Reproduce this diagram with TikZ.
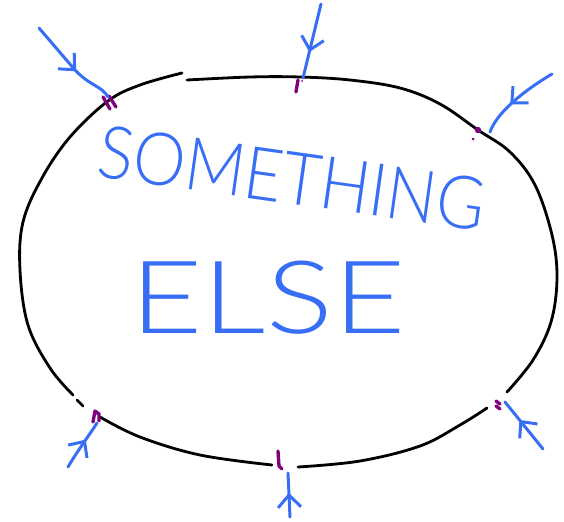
\documentclass[tikz,border=0pt]{standalone}
\usepackage{fontspec}
\usepackage{graphicx}
\newfontfamily\handfont{Lato}[UprightFont={* Light}]
\usetikzlibrary{arrows.meta, decorations.markings}
\definecolor{penblue}{RGB}{55,110,245}
\definecolor{penpurple}{RGB}{125,0,125}

\begin{document}
\begin{tikzpicture}[
    x=0.02cm, y=-0.02cm,
    outline/.style={draw=black, line width=1.6pt, line cap=round},
    tickmark/.style={draw=penpurple, line width=1.9pt, line cap=round, line join=round},
    feed/.style={draw=penblue, line width=1.7pt, line cap=round,
        postaction={decorate, decoration={markings,
            mark=at position #1 with {\arrow[line width=1.7pt]{Straight Barb[length=7pt, width=13pt]}}}}},
    feed/.default=0.6,
    word/.style={text=penblue, inner sep=0pt, font=\handfont}
]
\useasboundingbox (0,0) rectangle (564,521);

% Outline, drawn in pieces with gaps
\draw[outline] plot[smooth, tension=0.6] coordinates {(187,80) (250,77) (300,77) (350,80) (400,88) (440,104) (478,130) (510,152) (535,185) (552,235) (557,278) (551,322) (533,360) (507,392)};
\draw[outline] plot[smooth, tension=0.6] coordinates {(487,408) (460,425) (420,446) (360,461) (298,467)};
\draw[outline] plot[smooth, tension=0.6] coordinates {(272,465) (200,455) (140,437) (100,417)};
\draw[outline] (77,400) -- (83,406);
\draw[outline] plot[smooth, tension=0.6] coordinates {(73,395) (50,368) (28,325) (20,270) (23,222) (42,178) (70,137) (108,101) (140,85) (182,73)};

% Text
\node[word, rotate=-8] (something) at (292,178) {\resizebox{7.8cm}{1.05cm}{SOMETHING}};
\node[word] (else) at (268,298) {\resizebox{5.5cm}{1.45cm}{ELSE}};

% Marks on the outline
\draw[tickmark] (103,97) -- (110,109) (109,96) -- (116,107);
\draw[tickmark] (298,80) -- (296,92);
\fill[penpurple] (302,81) circle (1);
\fill[penpurple] (478,130) circle (3.2) (473,139) circle (1.5);
\draw[tickmark] (93,422) -- (95,411) -- (99,414) -- (99,421);
\draw[tickmark] (278,451) -- (279,466) -- (282,469);
\draw[tickmark] (496,401) -- (500,404) (496,406) -- (500,409);

% Arrow ends
\coordinate (t1) at (108,97);
\coordinate (t2) at (303,78);
\coordinate (t3) at (490,132);
\coordinate (t4) at (97,423);
\coordinate (t5) at (288,473);
\coordinate (t6) at (505,402);

% Arrows
\draw[feed=0.58] (39,28) -- (75,70) .. controls (90,86) and (102,86) .. (t1);
\draw[feed=0.65] (321,4) -- (t2);
\draw[feed=0.6] (552,74) .. controls (525,90) and (497,112) .. (t3);
\draw[feed=0.62] (68,467) .. controls (78,450) and (90,434) .. (t4);
\draw[feed=0.55] (290,517) -- (t5);
\draw[feed=0.62] (543,449) -- (t6);

\end{tikzpicture}
\end{document}
